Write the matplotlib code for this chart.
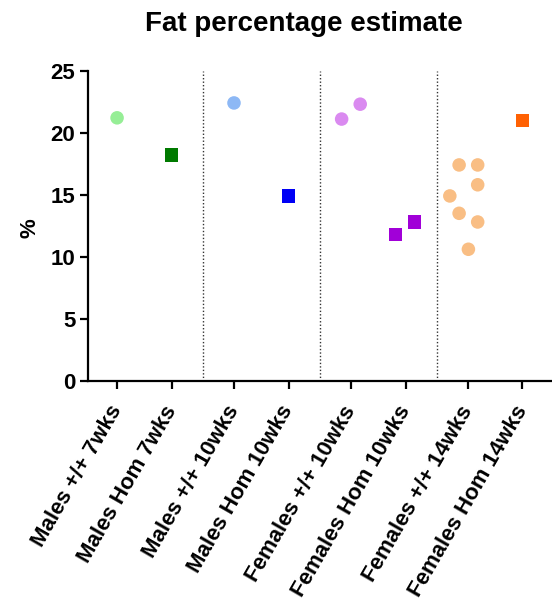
import numpy as np
import matplotlib
matplotlib.use("Agg")
import matplotlib.pyplot as plt

plt.rcParams['font.family'] = ['Liberation Sans', 'DejaVu Sans']
plt.rcParams['font.weight'] = 'bold'

# group names along the x axis
groups = ["Males +/+ 7wks", "Males Hom 7wks",
          "Males +/+ 10wks", "Males Hom 10wks",
          "Females +/+ 10wks", "Females Hom 10wks",
          "Females +/+ 14wks", "Females Hom 14wks"]

# fat % per animal
males_wt_7 = [21.2]
males_hom_7 = [18.2]
males_wt_10 = [22.4]
males_hom_10 = [14.9]
females_wt_10 = [21.1, 22.3]
females_hom_10 = [11.8, 12.8]
females_wt_14 = [17.4, 17.4, 15.8, 14.9, 13.5, 12.8, 10.6]
females_hom_14 = [21.0]

values = [males_wt_7, males_hom_7, males_wt_10, males_hom_10,
          females_wt_10, females_hom_10, females_wt_14, females_hom_14]

colors = ["#96EE96", "#007A00", "#8DB8F5", "#0000F5",
          "#DA8AF0", "#A100D8", "#F9BE84", "#FF6103"]
markers = ["o", "s"] * 4

# horizontal spread of overlapping points (in category widths)
spread = [[0], [0], [0], [0],
          [-0.17, 0.17], [-0.18, 0.16],
          [-0.16, 0.18, 0.18, -0.33, -0.16, 0.18, 0.01],
          [0]]

# pairs of columns, with a bit of extra room between pairs
xpos = np.array([(i // 2) * 2.14 + (i % 2) for i in range(len(groups))])

fig = plt.figure(figsize=(5.52, 6.06), dpi=100)
ax = fig.add_axes([88 / 552, 1 - 380.7 / 606, 1 - 88 / 552, 310 / 606])

for i, vals in enumerate(values):
    xs = xpos[i] + np.array(spread[i])
    ax.scatter(xs, vals, s=95, marker=markers[i], color=colors[i],
               edgecolors='none', zorder=3, clip_on=False)

# dotted separators between the pairs
for k in range(3):
    xm = (xpos[2 * k + 1] + xpos[2 * k + 2]) / 2
    ax.plot([xm, xm], [0, 25], linestyle=(0, (1, 1.5)), color='#333333',
            linewidth=1.0, zorder=1)

ax.set_xlim(-0.532, 7.96)
ax.set_ylim(0, 25)
ax.set_yticks([0, 5, 10, 15, 20, 25])
ax.set_xticks(xpos)
ax.set_xticklabels(groups, rotation=60, ha='right', va='center',
                   rotation_mode='anchor', fontsize=16, fontweight='bold')
for lab in ax.get_yticklabels():
    lab.set_fontsize(16)
    lab.set_fontweight('bold')

ax.spines['top'].set_visible(False)
ax.spines['right'].set_visible(False)
for sp in ['left', 'bottom']:
    ax.spines[sp].set_linewidth(1.6)
ax.tick_params(axis='both', length=6, width=1.6, pad=3)
ax.tick_params(axis='x', pad=13)

fig.text(30 / 552, 1 - 228 / 606, "%", rotation=90, ha='center', va='center',
         fontsize=16, fontweight='bold')
fig.text(304 / 552, 1 - 24 / 606, "Fat percentage estimate", ha='center',
         va='center', fontsize=20, fontweight='bold')

fig.savefig("out.png", dpi=100)
